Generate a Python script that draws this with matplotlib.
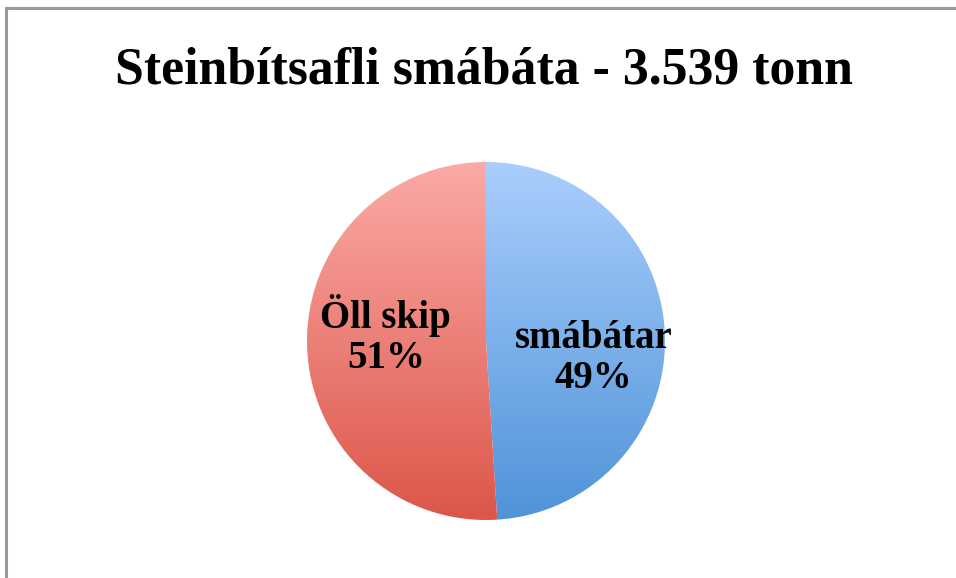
import numpy as np
import matplotlib
matplotlib.use("Agg")
import matplotlib.pyplot as plt
from matplotlib.patches import Rectangle
from matplotlib.colors import LinearSegmentedColormap

title = "Steinbítsafli smábáta - 3.539 tonn"
categories = ["smábátar", "Öll skip"]
shares = [49, 51]
top_colors = ["#aacefd", "#fbaaa6"]
bottom_colors = ["#4f93d8", "#dc5649"]

plt.rcParams["font.family"] = ["Liberation Serif", "DejaVu Serif"]

fig = plt.figure(figsize=(9.56, 5.78), dpi=100)

# grey frame around the chart area
fig.patches.append(Rectangle((5.5 / 956, -0.1), 1.2, (578 - 8.5) / 578 + 0.1,
                             transform=fig.transFigure, fill=False,
                             edgecolor="#9a9a9a", linewidth=2.2))

fig.text(0.506, 0.878, title, ha="center", va="center",
         fontsize=37.3, fontweight="bold")

ax = fig.add_axes([(486 - 179) / 956, (578 - 341 - 179) / 578, 358 / 956, 358 / 578])
wedges, _ = ax.pie(shares, startangle=90, counterclock=False, radius=1,
                   colors=["none", "none"])

grad = np.linspace(0, 1, 256).reshape(-1, 1)
for w, c0, c1 in zip(wedges, top_colors, bottom_colors):
    cmap = LinearSegmentedColormap.from_list("g", [c0, c1])
    im = ax.imshow(grad, cmap=cmap, extent=(-1, 1, -1, 1), origin="upper",
                   aspect="auto", zorder=1)
    im.set_clip_path(w)
    w.set_edgecolor("none")

label_pos = [(0.6, -0.1), (-0.56, 0.03)]
for name, val, (x, y) in zip(categories, shares, label_pos):
    ax.text(x, y, f"{name}\n{val}%", ha="center", va="center",
            fontsize=28, fontweight="bold", linespacing=1.1, zorder=3)

ax.set_xlim(-1, 1)
ax.set_ylim(-1, 1)
ax.set_aspect("equal")
ax.axis("off")

fig.savefig("out.png", dpi=100)
